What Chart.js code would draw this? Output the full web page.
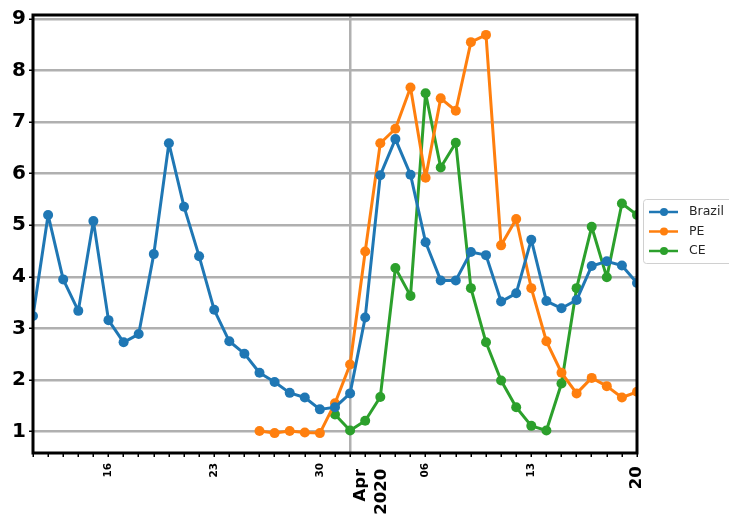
<!DOCTYPE html>
<html>
<head>
<meta charset="utf-8">
<script src="https://cdn.jsdelivr.net/npm/chart.js@4"></script>
<style>
  html, body { margin: 0; padding: 0; background: #fff; }
  #wrap { width: 729px; height: 516px; }
</style>
</head>
<body>
<div id="wrap"><canvas id="myChart" width="729" height="516"></canvas></div>
<script>
let dates = ['03-11', '03-12', '03-13', '03-14', '03-15', '03-16', '03-17', '03-18', '03-19', '03-20',
  '03-21', '03-22', '03-23', '03-24', '03-25', '03-26', '03-27', '03-28', '03-29', '03-30', '03-31',
  '04-01', '04-02', '04-03', '04-04', '04-05', '04-06', '04-07', '04-08', '04-09', '04-10',
  '04-11', '04-12', '04-13', '04-14', '04-15', '04-16', '04-17', '04-18', '04-19', '04-20'];
let tickLabels = {'03-16': '16', '03-23': '23', '03-30': '30', '04-01': ['Apr ', '2020 '],
  '04-06': '06', '04-13': '13', '04-20': '20\u2009'};
let yTicks = [1, 2, 3, 4, 5, 6, 7, 8, 9];

let brazil = [3.24, 5.20, 3.95, 3.34, 5.08, 3.16, 2.73, 2.89, 4.44, 6.59,
  5.36, 4.40, 3.36, 2.75, 2.51, 2.14, 1.96, 1.75, 1.66, 1.43, 1.47,
  1.74, 3.21, 5.97, 6.67, 5.98, 4.67, 3.93, 3.93, 4.48, 4.42,
  3.52, 3.68, 4.72, 3.53, 3.39, 3.55, 4.21, 4.30, 4.22, 3.88];
let pe = [null, null, null, null, null, null, null, null, null, null,
  null, null, null, null, null, 1.01, 0.97, 1.01, 0.98, 0.97, 1.55,
  2.30, 4.49, 6.59, 6.87, 7.67, 5.92, 7.46, 7.22, 8.55, 8.69,
  4.61, 5.12, 3.78, 2.75, 2.14, 1.74, 2.04, 1.88, 1.66, 1.77];
let ce = [null, null, null, null, null, null, null, null, null, null,
  null, null, null, null, null, null, null, null, null, null, 1.33,
  1.02, 1.21, 1.67, 4.17, 3.63, 7.56, 6.12, 6.60, 3.78, 2.73,
  1.99, 1.47, 1.11, 1.02, 1.93, 3.78, 4.97, 3.99, 5.42, 5.20];

let names = ['Brazil', 'PE', 'CE'];
let colorHex = ['#1f77b4', '#ff7f0e', '#2ca02c'];

const font = 'DejaVu Sans';

function isBig(index) {
  const lab = tickLabels[dates[index]];
  return Array.isArray(lab) || index === dates.length - 1;
}

// black frame drawn over the data, like matplotlib spines
const framePlugin = {
  id: 'frame',
  afterDraw(chart) {
    const a = chart.chartArea;
    const c = chart.ctx;
    c.save();
    c.strokeStyle = '#000';
    c.lineWidth = 3;
    c.strokeRect(a.left, a.top, a.right - a.left, a.bottom - a.top);
    c.restore();
  }
};

// legend sitting right of the plot, cut by the canvas edge
const sideLegend = {
  id: 'sideLegend',
  afterDraw(chart) {
    const c = chart.ctx;
    c.save();
    c.beginPath();
    c.roundRect(643.5, 199.5, 100, 64, 3);
    c.fillStyle = 'rgba(255,255,255,0.8)';
    c.fill();
    c.strokeStyle = '#d0d0d0';
    c.lineWidth = 1;
    c.stroke();
    chart.data.datasets.forEach((ds, i) => {
      const y = 212 + i * 19.5;
      c.strokeStyle = ds.borderColor;
      c.lineWidth = 2.5;
      c.beginPath();
      c.moveTo(649, y);
      c.lineTo(678, y);
      c.stroke();
      c.fillStyle = ds.borderColor;
      c.beginPath();
      c.arc(664, y, 4, 0, Math.PI * 2);
      c.fill();
      c.fillStyle = '#262626';
      c.font = '12.5px "' + font + '"';
      c.textBaseline = 'middle';
      c.fillText(ds.label, 689, y);
    });
    c.restore();
  }
};

let ctx = document.getElementById('myChart').getContext('2d');

let myChart = new Chart(ctx, {
  type: 'line',
  data: {
    labels: dates,
    datasets: [brazil, pe, ce].map((vals, i) => ({
      label: names[i],
      data: vals,
      borderColor: colorHex[i],
      backgroundColor: colorHex[i],
      borderWidth: 3,
      borderJoinStyle: 'round',
      borderCapStyle: 'round',
      pointRadius: 5,
      pointBorderWidth: 0,
      tension: 0,
      clip: 0
    }))
  },
  options: {
    responsive: false,
    animation: false,
    devicePixelRatio: 1,
    layout: {
      padding: { top: 12, right: 92, left: 0, bottom: 0 }
    },
    plugins: {
      legend: { display: false },
      tooltip: { enabled: false }
    },
    scales: {
      x: {
        type: 'category',
        offset: false,
        afterFit: (scale) => { scale.height = 63; },
        border: { display: false },
        grid: {
          offset: false,
          color: (c) => (c.index === 21 ? '#b0b0b0' : 'rgba(0,0,0,0)'),
          lineWidth: 2.5,
          tickColor: '#000',
          tickLength: 4,
          tickWidth: 1.5
        },
        ticks: {
          autoSkip: false,
          minRotation: 90,
          maxRotation: 90,
          padding: 6,
          color: '#000',
          // the backdrop flag only shifts the two-line month label sideways
          showLabelBackdrop: (c) => Array.isArray(tickLabels[dates[c.index]]),
          backdropColor: 'rgba(0,0,0,0)',
          callback: (value, index) => tickLabels[dates[index]] || '',
          font: (c) => {
            if (c.tick && isBig(c.index)) {
              return { family: font, size: 16.5, weight: 'bold', lineHeight: '21px' };
            }
            return { family: font, size: 10.5, weight: 'bold' };
          }
        }
      },
      y: {
        min: 0.584,
        max: 9.076,
        afterFit: (scale) => { scale.width = 33; },
        afterBuildTicks: (scale) => { scale.ticks = yTicks.map(v => ({ value: v })); },
        border: { display: false },
        grid: {
          color: '#b0b0b0',
          lineWidth: 2.5,
          tickColor: '#000',
          tickLength: 4,
          tickWidth: 1.5
        },
        ticks: {
          padding: 3,
          color: '#000',
          font: { family: font, size: 20, weight: 'bold' }
        }
      }
    }
  },
  plugins: [framePlugin, sideLegend]
});
</script>
</body>
</html>
